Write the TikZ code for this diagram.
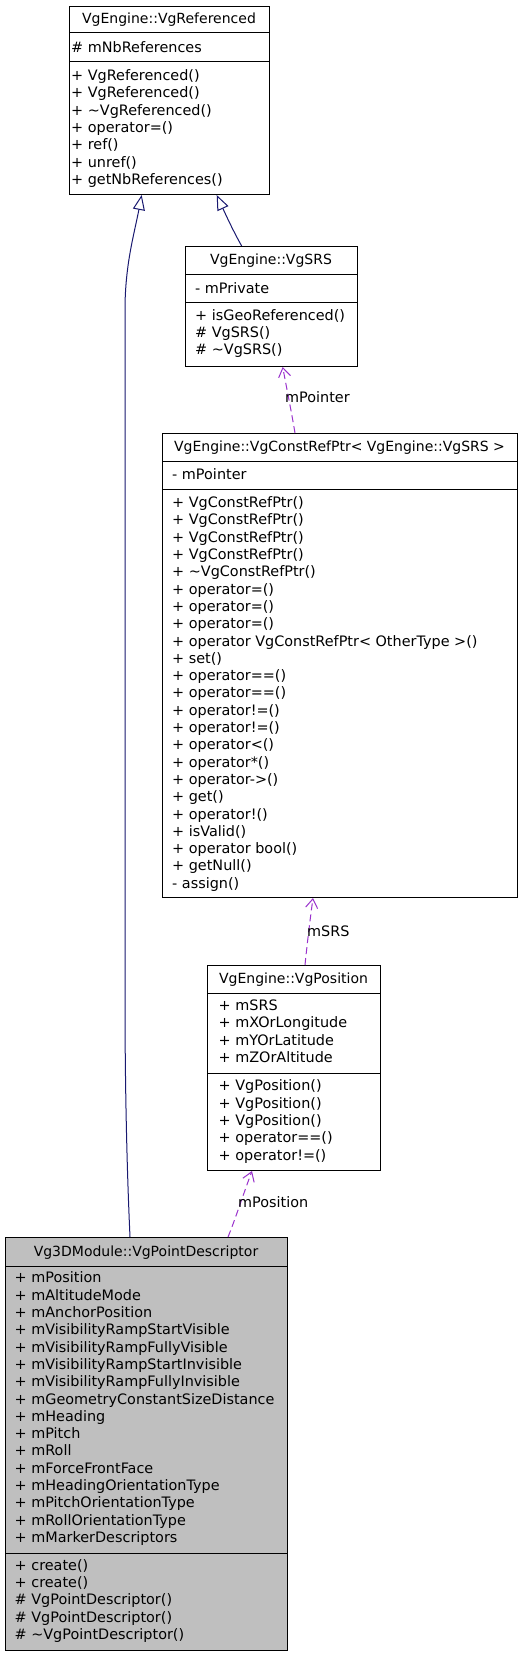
\documentclass[tikz,border=0pt]{standalone}
\usepackage{fontspec}
\setmainfont{DejaVu Sans}
\usetikzlibrary{arrows.meta}
\definecolor{inhcol}{HTML}{191970}
\definecolor{depcol}{HTML}{9A32CD}
\definecolor{boxgray}{HTML}{BFBFBF}
\tikzset{
  classbox/.style={draw=black, line width=1pt, anchor=north west, inner sep=0pt, fill=white},
  sepline/.style={draw=black, line width=1pt},
  ttl/.style={anchor=base, inner sep=0pt, font=\fontsize{14}{17.3}\selectfont},
  cmp/.style={anchor=north west, inner sep=0pt, align=left, font=\fontsize{14.4}{17.3}\selectfont, execute at begin node=\rule{0pt}{12pt}},
  inh/.style={draw=inhcol, line width=1pt, -{Triangle[open, length=15pt, width=12pt, fill=white]}},
  dep/.style={draw=depcol, line width=1pt, dashed, dash pattern=on 7pt off 4pt, -{Straight Barb[length=9pt, width=12pt]}},
  lbl/.style={anchor=base west, inner sep=0pt, font=\fontsize{14.4}{17.3}\selectfont}
}
\begin{document}
\begin{tikzpicture}[x=1pt,y=-1pt]
\useasboundingbox (0,0) rectangle (523,1656);
\fill[white] (0,0) rectangle (523,1656);

% Box A: VgReferenced
\node[classbox, minimum width=200pt, minimum height=188pt] (A) at (69,6) {};
\draw[sepline] (69,33) -- (269,33);
\draw[sepline] (69,62) -- (269,62);
\node[ttl] (At) at (169,24) {VgEngine::VgReferenced};
\node[cmp] (Aa) at (71,40.5) {\# mNbReferences};
\node[cmp] (Am) at (71,69.5) {+ VgReferenced()\\+ VgReferenced()\\+ \textasciitilde VgReferenced()\\+ operator=()\\+ ref()\\+ unref()\\+ getNbReferences()};

% Box B: VgSRS
\node[classbox, minimum width=172pt, minimum height=120pt] (B) at (185,246) {};
\draw[sepline] (185,274) -- (357,274);
\draw[sepline] (185,302) -- (357,302);
\node[ttl] (Bt) at (271,264.5) {VgEngine::VgSRS};
\node[cmp] (Ba) at (195,280.8) {- mPrivate};
\node[cmp] (Bm) at (195,309.2) {+ isGeoReferenced()\\\# VgSRS()\\\# \textasciitilde VgSRS()};

% Box C: VgConstRefPtr
\node[classbox, minimum width=355pt, minimum height=464pt] (C) at (162,433) {};
\draw[sepline] (162,461) -- (517,461);
\draw[sepline] (162,489) -- (517,489);
\node[ttl] (Ct) at (339.5,451.5) {VgEngine::VgConstRefPtr< VgEngine::VgSRS >};
\node[cmp] (Ca) at (172,467.5) {- mPointer};
\node[cmp] (Cm) at (172,496.5) {+ VgConstRefPtr()\\+ VgConstRefPtr()\\+ VgConstRefPtr()\\+ VgConstRefPtr()\\+ \textasciitilde VgConstRefPtr()\\+ operator=()\\+ operator=()\\+ operator=()\\+ operator VgConstRefPtr< OtherType >()\\+ set()\\+ operator==()\\+ operator==()\\+ operator!=()\\+ operator!=()\\+ operator<()\\+ operator*()\\+ operator->()\\+ get()\\+ operator!()\\+ isValid()\\+ operator bool()\\+ getNull()\\- assign()};

% Box D: VgPosition
\node[classbox, minimum width=173pt, minimum height=205pt] (D) at (207,965) {};
\draw[sepline] (207,993) -- (380,993);
\draw[sepline] (207,1073) -- (380,1073);
\node[ttl] (Dt) at (293.5,983.5) {VgEngine::VgPosition};
\node[cmp] (Da) at (218.5,999.8) {+ mSRS\\+ mXOrLongitude\\+ mYOrLatitude\\+ mZOrAltitude};
\node[cmp] (Dm) at (218.5,1079.8) {+ VgPosition()\\+ VgPosition()\\+ VgPosition()\\+ operator==()\\+ operator!=()};

% Box E: VgPointDescriptor
\node[classbox, fill=boxgray, minimum width=282pt, minimum height=413pt] (E) at (5,1237) {};
\draw[sepline] (5,1266) -- (287,1266);
\draw[sepline] (5,1553) -- (287,1553);
\node[ttl] (Et) at (146,1256) {Vg3DModule::VgPointDescriptor};
\node[cmp] (Ea) at (14.5,1271.8) {+ mPosition\\+ mAltitudeMode\\+ mAnchorPosition\\+ mVisibilityRampStartVisible\\+ mVisibilityRampFullyVisible\\+ mVisibilityRampStartInvisible\\+ mVisibilityRampFullyInvisible\\+ mGeometryConstantSizeDistance\\+ mHeading\\+ mPitch\\+ mRoll\\+ mForceFrontFace\\+ mHeadingOrientationType\\+ mPitchOrientationType\\+ mRollOrientationType\\+ mMarkerDescriptors};
\node[cmp] (Em) at (14.5,1559.2) {+ create()\\+ create()\\\# VgPointDescriptor()\\\# VgPointDescriptor()\\\# \textasciitilde VgPointDescriptor()};

% Inheritance edges
\draw[inh] ([xshift=125pt]E.north west) .. controls (126,1150) and (125,1060) .. (125,1000) -- (125,310) .. controls (125,265) and (134,235) .. ([xshift=72.7pt]A.south west);
\draw[inh] ([xshift=56.7pt]B.north west) .. controls (236,236) and (230,224) .. ([xshift=147.7pt]A.south west);

% Dependency edges
\draw[dep] ([xshift=133pt]C.north west) .. controls (292,415) and (288,395) .. ([xshift=97.7pt]B.south west);
\node[lbl] (L1) at (285,402.5) {mPointer};
\draw[dep] ([xshift=98pt]D.north west) .. controls (307,945) and (310,920) .. ([xshift=151pt]C.south west);
\node[lbl] (L2) at (307,936.5) {mSRS};
\draw[dep] ([xshift=223pt]E.north west) .. controls (235,1220) and (243,1195) .. ([xshift=45pt]D.south west);
\node[lbl] (L3) at (238,1207.5) {mPosition};
\end{tikzpicture}
\end{document}
